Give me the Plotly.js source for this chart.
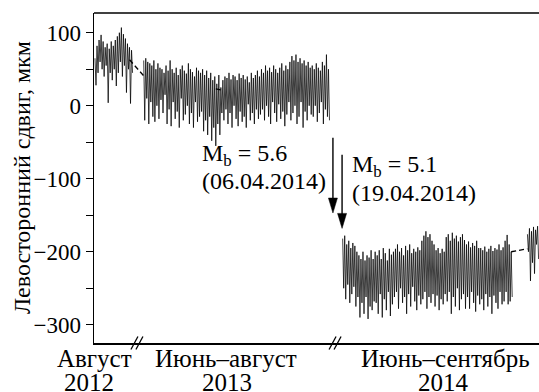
<!DOCTYPE html>
<html><head><meta charset="utf-8">
<script src="https://cdn.plot.ly/plotly-3.0.1.min.js"></script>
<style>html,body{margin:0;padding:0;background:#fff}</style>
</head><body><div id="chart" style="width:539px;height:392px"></div>
<script>
// Compressed timeline in days; each segment: daily maxima (day) and minima (night)
const seg1Start = 0;   // August 2012
const seg1Hi = [65, 82, 90, 97, 88, 80, 85, 78, 88, 82, 90, 95, 100, 107, 98, 92, 85, 80, 76];
const seg1Lo = [28, 45, 60, 50, 40, 55, 4, 45, 35, 50, 27, 45, 60, 40, 55, 18, 50, 3, 45];

const seg2Start = 24;  // June–August 2013
const seg2Hi = [62, 65, 60, 58, 55, 62, 50, 58, 52,
  50, 45, 55, 48, 62, 50, 45, 52, 42, 50, 55, 48, 44, 58, 50, 46, 40, 52, 48, 45,
  50, 42, 48, 38, 45, 35, 40, 30, 42, 25,
  35, 40, 38, 45, 36, 42, 40, 35, 44, 38, 42, 36, 40, 32, 45, 38, 42, 48, 40,
  50, 45, 55, 48, 52, 46, 55, 50, 45, 52, 58, 48, 55, 50, 60,
  68, 62, 70, 60, 65, 58, 62, 55, 60, 52,
  55, 50, 58, 52, 48, 60, 55, 70, 50];
const seg2Lo = [-20, 10, -25, 5, -15, -22, 0, -18, 8,
  -10, 15, -25, -5, -28, 5, -18, -8, -30, 10, -20, -12, 0, -25, -10, -30, 5, -22, -15, -8,
  -35, -20, -40, -15, -48, -30, -55, -25, -40, -10,
  -20, -5, -25, -10, -30, 0, -18, -28, -8, -22, -15, -30, 2, -20, -10, -25, -5, -18, -12,
  -5, -20, 0, -15, -25, 5, -10, -22, 2, -18, -8, -28, -12, 5, -20,
  -10, 0, -25, -15, 5, -30, -8, -20, 0, -12,
  -15, 0, -22, -10, 5, -25, -5, -15, -20];

const seg3Start = 122; // June–September 2014
const seg3Hi = [-182, -178, -190, -185, -195, -188, -192, -200,
  -205, -210, -200, -212, -205, -208, -198, -210,
  -200, -205, -198, -210, -195, -202, -212, -196, -204, -200,
  -196, -190, -200, -195, -205, -192, -198, -190, -202, -196, -200, -194, -198,
  -185, -178, -172, -180, -176, -185, -190,
  -198, -195, -202, -196, -200,
  -180, -176, -185, -174, -182, -178, -186, -180, -176, -184,
  -190, -186, -194, -188, -192, -185, -195,
  -195, -198, -193, -200, -196, -192, -199, -195, -197, -190, -198, -194,
  -185, -177, -190, -200,
  null, null, null, null, null, null, null,
  -176, -168, -172, -166, -170, -165];
const seg3Lo = [-250, -265, -245, -270, -258, -248, -275, -262,
  -290, -270, -285, -262, -292, -275, -280, -268,
  -270, -285, -258, -290, -265, -280, -255, -288, -272, -262,
  -255, -278, -250, -270, -262, -285, -258, -275, -248, -268, -280, -260, -272,
  -265, -255, -278, -262, -270, -258, -275,
  -260, -280, -265, -272, -258,
  -268, -255, -285, -262, -275, -250, -280, -265, -258, -278,
  -262, -278, -255, -270, -282, -260, -272,
  -265, -280, -258, -275, -262, -285, -260, -270, -278, -255, -272, -268,
  -255, -272, -268, -262,
  null, null, null, null, null, null, null,
  -200, -240, -215, -230, -190, -210];

// Smoothed trend (dashed), visible only where the record has gaps
const trendX = [17, 24, null, 59.5, 63, null, 205, 213];
const trendY = [63, 41, null, 23, 21, null, -200, -196];

const xLabelTop = ["Август", "Июнь–август", "Июнь–сентябрь"];
const xLabelYear = ["2012", "2013", "2014"];
const yTicks = [100, 0, -100, -200, -300];
const yTitle = "Левосторонний сдвиг, мкм";
const quakes = [{mag: "5.6", date: "(06.04.2014)"}, {mag: "5.1", date: "(19.04.2014)"}];

function build() {
  const xs = [], ys = [];
  [[seg1Start, seg1Hi, seg1Lo], [seg2Start, seg2Hi, seg2Lo], [seg3Start, seg3Hi, seg3Lo]].forEach(([s, hi, lo]) => {
    for (let i = 0; i < hi.length; i++) {
      xs.push(s + i); ys.push(hi[i]);
      xs.push(s + i + 0.5); ys.push(lo[i]);
    }
    xs.push(null); ys.push(null);
  });
  return {xs, ys};
}
const d = build();

const FONT = "'Liberation Serif', 'Times New Roman', serif";
const FS = 24;
const FST = 23;
const FSX = 25;

const traces = [
  {x: trendX, y: trendY, mode: 'lines', line: {color: '#000', width: 1.3, dash: '5px,3px'}, hoverinfo: 'skip', connectgaps: false},
  {x: d.xs, y: d.ys, mode: 'lines', line: {color: '#000', width: 0.75}, connectgaps: false, hoverinfo: 'skip'}
];

const annotations = [];
// x label centres in paper fraction (plot spans 445 px)
const topPos = [0.0, 0.297, 0.79];
const yearPos = [-0.012, 0.299, 0.786];
for (let i = 0; i < 3; i++) {
  annotations.push({x: topPos[i], xref: 'paper', xanchor: 'center', y: 0, yref: 'paper', yanchor: 'middle', yshift: -15, text: xLabelTop[i], showarrow: false, font: {family: FONT, size: FSX, color: '#000'}});
  annotations.push({x: yearPos[i], xref: 'paper', xanchor: 'center', y: 0, yref: 'paper', yanchor: 'middle', yshift: -39, text: xLabelYear[i], showarrow: false, font: {family: FONT, size: FSX, color: '#000'}});
}
annotations.push({x: 0, xref: 'paper', xanchor: 'center', xshift: -72, y: 0.5, yref: 'paper', yanchor: 'middle', text: yTitle, textangle: -90, showarrow: false, font: {family: FONT, size: FS, color: '#000'}});
const qText = [{x: 51.5, y1: -67, y2: -103}, {x: 125.5, y1: -83, y2: -120}];
quakes.forEach((q, i) => {
  annotations.push({x: qText[i].x, y: qText[i].y1, xanchor: 'left', yanchor: 'middle', text: 'M<sub>b</sub> = ' + q.mag, showarrow: false, font: {family: FONT, size: FS, color: '#000'}});
  annotations.push({x: qText[i].x, y: qText[i].y2, xanchor: 'left', yanchor: 'middle', text: q.date, showarrow: false, font: {family: FONT, size: FS, color: '#000'}});
});

const arrows = [{x: 117.2, top: -44, tip: -147}, {x: 121.7, top: -67, tip: -168}];
const shapes = [
  {type: 'line', xref: 'paper', yref: 'paper', x0: 0, x1: 1, y0: 1, y1: 1, line: {color: '#000', width: 1.5}}
];
arrows.forEach(a => {
  shapes.push({type: 'line', xref: 'x', yref: 'y', x0: a.x, x1: a.x, y0: a.top, y1: a.tip + 10, line: {color: '#000', width: 1.4}});
  shapes.push({type: 'path', xref: 'x', yref: 'y', xsizemode: 'pixel', ysizemode: 'pixel', xanchor: a.x, yanchor: a.tip,
    path: 'M-4.5,15L4.5,15L0,0Z', fillcolor: '#000', line: {color: '#000', width: 0.5}});
});
[20.9, 118.5].forEach(bx => {
  [-3, 2].forEach(off => {
    shapes.push({type: 'line', xref: 'x', yref: 'paper', xsizemode: 'pixel', ysizemode: 'pixel', xanchor: bx, yanchor: 0,
      x0: off - 3.5, x1: off + 3.5, y0: -6.5, y1: 6.5, line: {color: '#000', width: 1.3}});
  });
});

const layout = {
  width: 539, height: 392,
  margin: {l: 94, r: 0, t: 13, b: 49},
  paper_bgcolor: '#fff', plot_bgcolor: '#fff',
  showlegend: false,
  font: {family: FONT, size: FS, color: '#000'},
  xaxis: {range: [-0.49, 218.7], showgrid: false, zeroline: false, showticklabels: false, ticks: '',
    showline: true, linecolor: '#000', linewidth: 1.5},
  yaxis: {range: [-325, 127], showgrid: false, zeroline: false, tickvals: yTicks, ticks: 'outside', ticklen: 7, tickwidth: 1.4,
    tickcolor: '#000', showline: true, linecolor: '#000', linewidth: 1.5,
    tickfont: {family: FONT, size: FST, color: '#000'},
    minor: {dtick: 50, tick0: 50, ticks: 'outside', ticklen: 7, tickwidth: 1.4, tickcolor: '#000', showgrid: false}},
  annotations: annotations,
  shapes: shapes
};
Plotly.newPlot('chart', traces, layout, {staticPlot: true, displayModeBar: false});
</script></body></html>
